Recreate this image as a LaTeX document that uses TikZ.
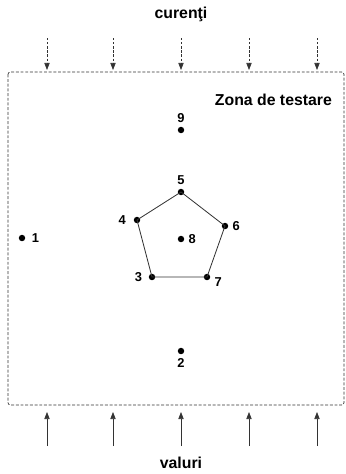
\documentclass[tikz,border=0pt]{standalone}
\usepackage{fontspec}
\setmainfont{Liberation Sans}
\usepackage{xcolor}
\definecolor{zonink}{HTML}{333333}
\usetikzlibrary{arrows.meta,positioning,calc}

\begin{document}
\begin{tikzpicture}[x=0.03cm,y=-0.03cm,
  pt/.style={circle,fill=black,inner sep=0pt,minimum size=5.5pt},
  num/.style={font=\bfseries\fontsize{11}{13}\selectfont},
  titlu/.style={font=\bfseries\fontsize{13.5}{16}\selectfont},
  flux/.style={draw=zonink,line width=0.6pt,-{Triangle[length=6pt,width=4.5pt]}}]
\useasboundingbox (0,0) rectangle (346,474);
% zona de testare
\draw[zonink,line width=0.6pt,dash pattern=on 2.5pt off 1.5pt,rounded corners=2pt]
  (8,72) rectangle (344,405);
\node[titlu,anchor=east] (zona) at (336,100) {Zona de testare};
\node[titlu] (cur) at (181,14) {curenţi};
\node[titlu] (val) at (181,463) {valuri};
% sageti
\foreach \x [count=\i] in {47,113,181,249,317}{
  \coordinate (s\i) at (\x,38);
  \coordinate (e\i) at (\x,70);
  \draw[flux,dash pattern=on 2pt off 1.5pt] (s\i) -- (e\i);
  \coordinate (b\i) at (\x,446);
  \coordinate (f\i) at (\x,412);
  \draw[flux] (b\i) -- (f\i);
}
% puncte
\node[pt,label={[num,xshift=2pt]right:1}] (p1) at (22,238) {};
\node[pt,label={[num]below:2}] (p2) at (181,351) {};
\node[pt,label={[num,xshift=-2pt]left:3}] (p3) at (152,277) {};
\node[pt,label={[num,xshift=-3pt]left:4}] (p4) at (137,220) {};
\node[pt,label={[num]above:5}] (p5) at (181,192) {};
\node[pt,label={[num]right:6}] (p6) at (225,226) {};
\node[pt,label={[num,yshift=-4pt]right:7}] (p7) at (207,277) {};
\node[pt,label={[num]right:8}] (p8) at (181,239) {};
\node[pt,label={[num]above:9}] (p9) at (181,130) {};
\draw[zonink,line width=0.7pt] (p3.center) -- (p4.center) -- (p5.center) -- (p6.center) -- (p7.center) -- cycle;
\end{tikzpicture}
\end{document}
